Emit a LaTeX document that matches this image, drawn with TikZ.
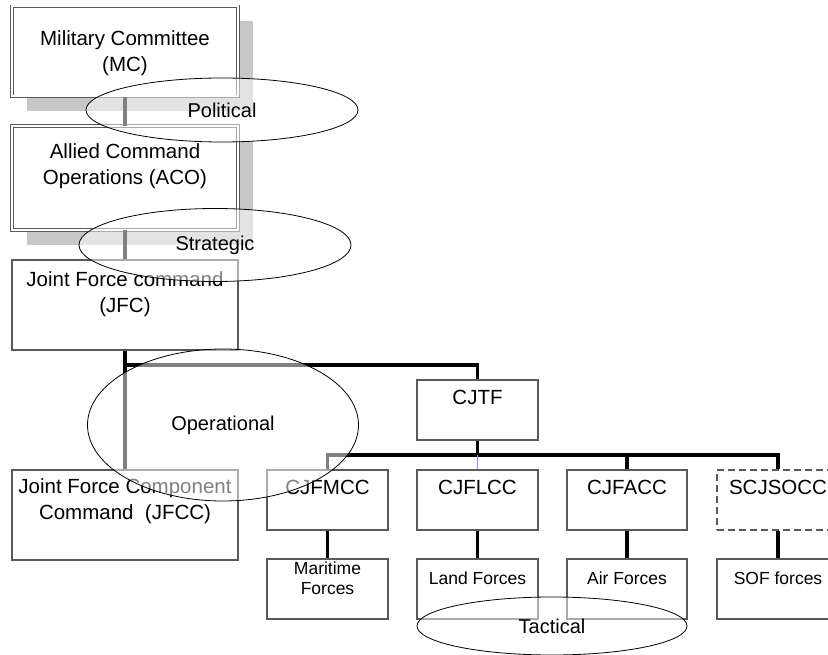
\documentclass[tikz,border=0pt]{standalone}
\usepackage{fontspec}
\setmainfont{Liberation Sans}
\usetikzlibrary{shapes.geometric,shadows}

\begin{document}
\begin{tikzpicture}[x=1pt, y=-1pt,
    unit/.style={draw=black!65, line width=1.1pt, fill=white, inner sep=0pt,
      minimum width=226pt, minimum height=90pt},
    top/.style={unit, double=white, double distance=2pt, line width=0.9pt,
      drop shadow={shadow xshift=15pt, shadow yshift=-15pt, fill=black!22, opacity=1}},
    cell/.style={unit, minimum width=121pt, minimum height=60pt},
    txt/.style={align=center, inner sep=0pt, font=\fontsize{20.5}{26}\selectfont, yshift=#1},
    txt/.default=12pt,
    small/.style={align=center, inner sep=0pt, font=\fontsize{17.5}{20}\selectfont, yshift=11pt},
    link/.style={line width=3.2pt},
    level/.style={ellipse, draw, line width=0.8pt, fill=white, fill opacity=0.5,
      text opacity=1, inner sep=0pt, font=\fontsize{20}{24}\selectfont}]
    \path[use as bounding box, clip] (0,0) rectangle (828,655);

    \node[top, label={[txt=-2pt]center:{Military Committee\\(MC)}}] (mc) at (125,51.5) {};
    \node[top, minimum height=104pt, label={[txt]center:{Allied Command\\Operations (ACO)}}] (aco) at (125,178) {};
    \node[unit, label={[txt=11pt]center:{Joint Force command\\(JFC)}}] (jfc) at (125,305) {};
    \node[unit, label={[txt=13.5pt]center:{Joint Force Component\\Command~~(JFCC)}}] (jfcc) at (125,515) {};

    \node[cell, label={[txt=13pt]center:CJTF}] (cjtf) at (477.5,410) {};
    \node[cell, label={[txt=13pt]center:CJFMCC}] (cjfmcc) at (327.5,500) {};
    \node[cell, label={[txt=13pt]center:CJFLCC}] (cjflcc) at (477.5,500) {};
    \node[cell, minimum width=120pt, label={[txt=13pt]center:CJFACC}] (cjfacc) at (627,500) {};
    \node[cell, minimum width=122pt, dash pattern=on 7pt off 4pt, label={[txt=13pt]center:SCJSOCC}] (scjsocc) at (778,500) {};

    \node[cell, label={[small]center:{Maritime\\Forces}}] (maritime) at (327.5,589) {};
    \node[cell, label={[small]center:Land Forces}] (land) at (477.5,589) {};
    \node[cell, minimum width=120pt, label={[small]center:Air Forces}] (air) at (627,589) {};
    \node[cell, minimum width=122pt, label={[small]center:SOF forces}] (sof) at (778,589) {};

    \coordinate (opsbus) at (125,365);
    \coordinate (tacbus) at (477.5,455);

    \draw[link] (mc) -- (aco);
    \draw[link] (aco) -- (jfc);
    \draw[link] (jfc) -- (jfcc);
    \draw[link] (opsbus) -| (cjtf.north);
    \draw[link] (cjtf) -- (tacbus);
    \draw[link] (cjfmcc.north) |- (tacbus) -| (scjsocc.north);
    \draw[link] (tacbus -| cjfacc.north) -- (cjfacc.north);
    \draw[line width=0.8pt, blue!45] (tacbus) -- (cjflcc.north);
    \draw[link] (cjfmcc) -- (maritime);
    \draw[link] (cjflcc) -- (land);
    \draw[link] (cjfacc) -- (air);
    \draw[link] (scjsocc) -- (sof);

    \node[level, minimum width=272pt, minimum height=64pt] (political) at (222,110) {Political};
    \node[level, minimum width=272pt, minimum height=73pt] (strategic) at (215,245) {Strategic};
    \node[level, minimum width=271pt, minimum height=152pt] (operational) at (223,425) {Operational};
    \node[level, minimum width=270pt, minimum height=58pt] (tactical) at (552,626) {Tactical};
  \end{tikzpicture}
\end{document}
